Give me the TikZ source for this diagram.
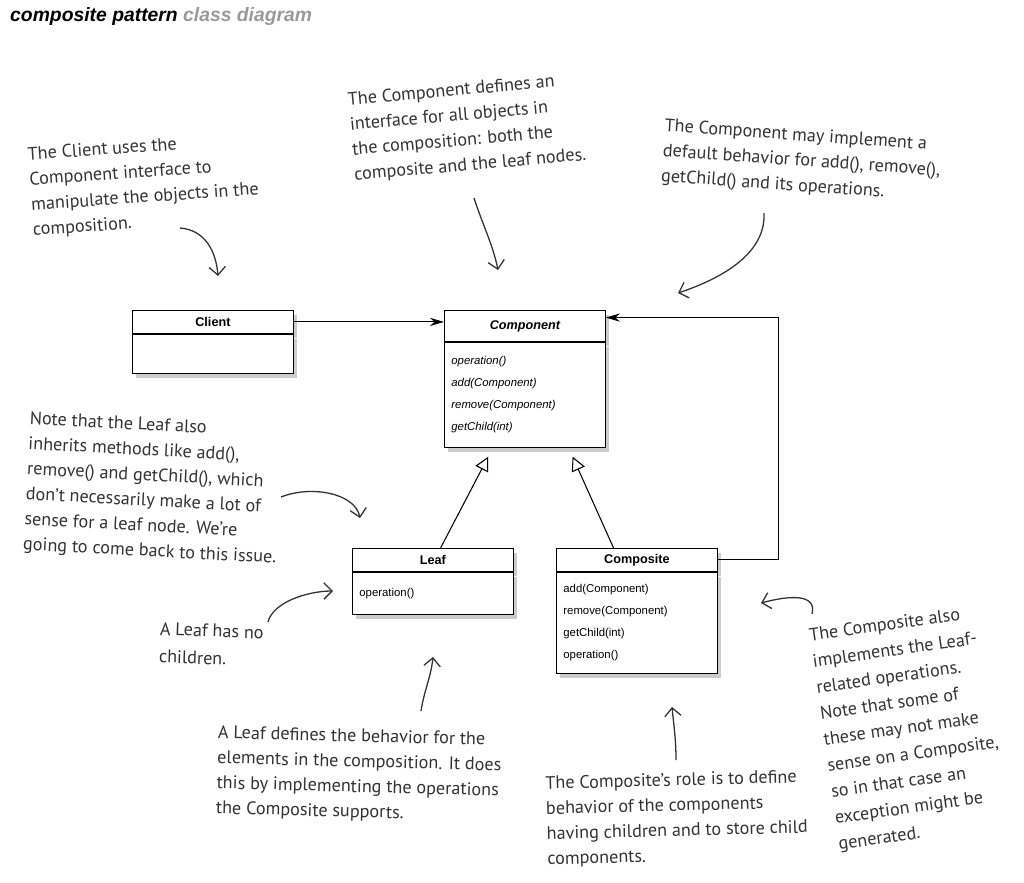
\documentclass[tikz,border=0pt]{standalone}
\usepackage{fontspec}
\setmainfont{Liberation Sans}
\newfontfamily\handfont{PT Sans}
\usetikzlibrary{positioning,calc,shadows,arrows.meta}
\definecolor{inkgray}{HTML}{333333}
\definecolor{titlegray}{HTML}{9A9A9A}

\begin{document}
\begin{tikzpicture}[x=0.03cm, y=-0.03cm,
  classhead/.style={draw, fill=white, line width=0.7pt, minimum width=4.83cm, inner sep=0pt,
    font=\fontsize{10.8}{13}\selectfont\bfseries,
    drop shadow={shadow xshift=3pt, shadow yshift=-4pt, opacity=0.4}},
  classbody/.style={draw, fill=white, line width=0.7pt, text width=4.41cm, inner xsep=0.21cm,
    inner ysep=0pt, align=left, font=\fontsize{9.7}{18.7}\selectfont,
    drop shadow={shadow xshift=3pt, shadow yshift=-4pt, opacity=0.4}},
  note/.style={inner sep=0pt, anchor=north west, align=left, text=inkgray,
    font=\handfont\fontsize{15.5}{21.5}\selectfont},
  hand/.style={draw=inkgray, line width=1.1pt, -{Straight Barb[length=7pt,width=14pt]}},
  uml/.style={line width=0.9pt, -{Stealth[length=12pt,width=7pt]}},
  isa/.style={line width=0.9pt, -{Triangle[open,length=12pt,width=12pt,fill=white]}}]
\useasboundingbox (0,0) rectangle (1024,882);

% ----------------- title -----------------
\node (title) [anchor=west, inner sep=0pt, font=\fontsize{16.5}{19}\selectfont\bfseries\itshape] at (10,16)
  {composite pattern \textcolor{titlegray}{class diagram}};

% ----------------- classes -----------------
\node (clienthead) [classhead, minimum height=0.69cm, anchor=north west] at (132,310) {Client};
\node (clientbody) [classbody, minimum height=1.17cm, below=0pt of clienthead] {};

\node (comphead) [classhead, minimum height=0.93cm, anchor=north west] at (444,310) {\itshape Component};
\node (compbody) [classbody, minimum height=3.15cm, below=0pt of comphead] {\itshape
  operation()\\
  add(Component)\\
  remove(Component)\\
  getChild(int)};

\node (leafhead) [classhead, minimum height=0.69cm, anchor=north west] at (352,548) {Leaf};
\node (leafbody) [classbody, minimum height=1.26cm, below=0pt of leafhead] {operation()\\[4pt]};

\node (compositehead) [classhead, minimum height=0.69cm, anchor=north west] at (556,548) {Composite};
\node (compositebody) [classbody, minimum height=3.03cm, below=0pt of compositehead] {
  add(Component)\\
  remove(Component)\\
  getChild(int)\\
  operation()};

% ----------------- relations -----------------
\draw[uml] (clienthead.east) -- (clienthead.east -| comphead.west);
\draw[uml] (compositehead.east) -- ++(61,0) |- ([yshift=0.25cm]comphead.east);
\draw[isa] ([xshift=0.23cm]leafhead.north) -- ([xshift=-1.1cm,yshift=-0.27cm]compbody.south);
\draw[isa] ([xshift=-0.7cm]compositehead.north) -- ([xshift=1.43cm,yshift=-0.27cm]compbody.south);

% ----------------- notes -----------------
\node (clientnote) [note, rotate=4] at (27,147) {The Client uses the\\
  Component interface to\\
  manipulate the objects in the\\
  composition.};

\node (compnote) [note, rotate=5] at (347,92) {The Component defines an\\
  interface for all objects in\\
  the composition: both the\\
  composite and the leaf nodes.};

\node (defaultnote) [note, rotate=-4] at (665,118) {The Component may implement a\\
  default behavior for add(), remove(),\\
  getChild() and its operations.};

\node (inheritnote) [note, rotate=-3] at (30,411) {Note that the Leaf also\\
  inherits methods like add(),\\
  remove() and getChild(), which\\
  don’t necessarily make a lot of\\
  sense for a leaf node. We’re\\
  going to come back to this issue.};

\node (nochildnote) [note, rotate=-2] at (160,622) {A Leaf has no\\[2pt]
  children.};

\node (leafdefnote) [note, rotate=-1.5] at (218,725) {A Leaf defines the behavior for the\\
  elements in the composition.  It does\\
  this by implementing the operations\\
  the Composite supports.};

\node (rolenote) [note, rotate=1.5] at (545,776) {The Composite’s role is to define\\
  behavior of the components\\
  having children and to store child\\
  components.};

\node (compalsonote) [note, rotate=8, font=\handfont\fontsize{15.5}{22.5}\selectfont] at (808,628) {The Composite also\\
  implements the Leaf-\\
  related operations.\\
  Note that some of\\
  these may not make\\
  sense on a Composite,\\
  so in that case an\\
  exception might be\\
  generated.};

% ----------------- hand arrows -----------------
\coordinate (clientTail) at (180,228);   \coordinate (clientTip) at (218,276);
\coordinate (compTail) at (474,198);     \coordinate (compTip) at (498,270);
\coordinate (defaultTail) at (764,213);  \coordinate (defaultTip) at (678,293);
\coordinate (inheritTail) at (281,497);  \coordinate (inheritTip) at (360,518);
\coordinate (nochildTail) at (268,622);  \coordinate (nochildTip) at (333,591);
\coordinate (leafdefTail) at (421,711);  \coordinate (leafdefTip) at (433,657);
\coordinate (roleTail) at (676,760);     \coordinate (roleTip) at (672,707);
\coordinate (compalsoTail) at (812,614); \coordinate (compalsoTip) at (761,603);

\draw[hand] (clientTail) .. controls +(25,2) and +(-2,-25) .. (clientTip);
\draw[hand] (compTail) .. controls +(8,25) and +(-5,-25) .. (compTip);
\draw[hand] (defaultTail) .. controls +(2,40) and +(45,-15) .. (defaultTip);
\draw[hand] (inheritTail) .. controls +(30,-12) and +(-5,-25) .. (inheritTip);
\draw[hand] (nochildTail) .. controls +(5,-20) and +(-25,0) .. (nochildTip);
\draw[hand] (leafdefTail) .. controls +(3,-20) and +(-2,20) .. (leafdefTip);
\draw[hand] (roleTail) .. controls +(0,-20) and +(2,20) .. (roleTip);
\draw[hand] (compalsoTail) .. controls +(5,-20) and +(30,-8) .. (compalsoTip);

\end{tikzpicture}
\end{document}
